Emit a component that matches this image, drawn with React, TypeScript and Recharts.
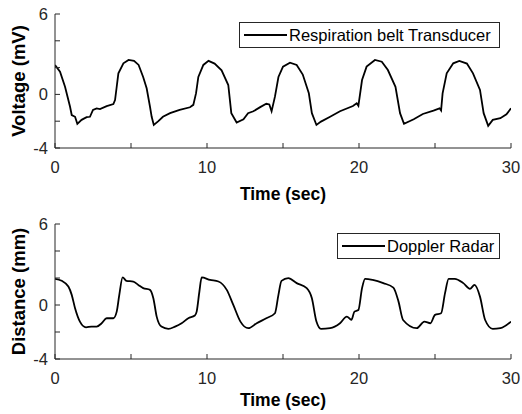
import { LineChart, Line, XAxis, YAxis, Legend, Label } from "recharts";

const FONT = '"Liberation Sans", Arial, Helvetica, sans-serif';
const AXIS = "#262626";

// axis ticks: every tick is drawn, only some carry a number
const TIME_TICKS = [0, 5, 10, 15, 20, 25, 30];
const TIME_LABELS = [0, 10, 20, 30];
const VALUE_TICKS = [-4, -2, 0, 2, 4, 6];
const VALUE_LABELS = [-4, 0, 6];

// respiration belt transducer (mV)
const beltTime = [
  0, 0.33, 0.66, 0.99, 1.1, 1.32, 1.47, 1.75, 2.08, 2.3, 2.5, 2.74, 2.96, 3.4, 3.84, 3.95,
  4.06, 4.17, 4.5, 4.84, 5.2, 5.5, 5.8, 6.03, 6.25, 6.36, 6.5, 6.8, 7.1, 7.57, 8.2, 8.88,
  9.1, 9.28, 9.43, 9.76, 10.1, 10.5, 10.96, 11.4, 11.6, 11.95, 12.4, 12.7, 13.05, 13.5, 13.9,
  14.1, 14.25, 14.47, 14.7, 15.0, 15.46, 15.9, 16.3, 16.7, 16.9, 17.2, 17.5, 18.1, 18.75,
  19.6, 19.85, 19.96, 20.2, 20.5, 21.05, 21.5, 21.9, 22.4, 22.7, 22.96, 23.6, 24.2, 24.9,
  25.3, 25.4, 25.5, 25.77, 26.2, 26.6, 27.1, 27.5, 27.96, 28.2, 28.5, 28.8, 29.3, 29.7, 30,
];
const beltVoltage = [
  2.2, 1.7, 0.57, -0.92, -1.54, -1.67, -2.2, -1.9, -1.7, -1.67, -1.16, -1.04, -1.1, -0.87, -0.72, -0.42,
  0.57, 1.57, 2.32, 2.57, 2.5, 2.2, 1.3, 0.46, -0.92, -1.67, -2.28, -2.0, -1.67, -1.4, -1.16, -0.96,
  -0.78, 0.09, 1.3, 2.2, 2.5, 2.3, 1.8, 0.7, -1.4, -2.1, -1.85, -1.4, -1.26, -0.95, -0.7,
  -0.75, -1.26, -0.17, 1.3, 2.07, 2.37, 2.2, 1.48, 0.08, -1.4, -2.28, -2.03, -1.67, -1.26,
  -0.87, -0.66, -0.85, 1.07, 2.07, 2.57, 2.44, 1.82, 0.57, -1.4, -2.2, -1.86, -1.46, -1.21,
  -1.04, -1.2, 0.08, 1.57, 2.32, 2.5, 2.3, 1.57, 0.33, -1.4, -2.35, -1.9, -1.78, -1.49, -1.04,
];

// doppler radar (mm)
const radarTime = [
  0, 0.44, 0.88, 1.1, 1.32, 1.64, 2.04, 2.4, 2.74, 3.07, 3.4, 3.84, 4.06, 4.23, 4.45, 4.7,
  5.15, 5.48, 5.8, 6.25, 6.47, 6.69, 7.0, 7.46, 7.9, 8.33, 8.77, 9.2, 9.32, 9.5, 9.65, 10.2,
  10.75, 11.3, 11.73, 12.2, 12.72, 13.27, 13.9, 14.47, 14.7, 14.9, 15.35, 15.9, 16.56, 16.9,
  17.2, 17.5, 18.1, 18.75, 19.2, 19.5, 19.7, 19.96, 20.2, 20.4, 20.9, 21.6, 22.26, 22.6, 22.9,
  23.8, 24.3, 24.7, 25.0, 25.4, 25.66, 25.9, 26.3, 26.86, 27.3, 27.6, 27.96, 28.3, 28.8, 29.3, 30,
];
const radarDistance = [
  1.94, 1.79, 1.37, 0.75, -0.24, -1.23, -1.65, -1.6, -1.6, -1.35, -0.98, -0.98, -0.49, 0.75, 2.04, 1.79,
  1.74, 1.49, 1.25, 1.12, 0.5, -0.86, -1.6, -1.77, -1.6, -1.35, -0.98, -0.78, -0.49, 1.0, 2.04, 1.86,
  1.74, 1.12, 0.01, -1.23, -1.72, -1.35, -0.98, -0.61, 0.75, 1.79, 1.99, 1.62, 1.25, 0.5,
  -1.23, -1.77, -1.72, -1.35, -0.86, -1.1, -0.49, -0.37, 1.25, 1.94, 1.86, 1.62, 1.29, 0.25, -1.11,
  -1.72, -1.23, -1.35, -0.73, -0.61, 0.88, 1.94, 1.94, 1.62, 1.2, 1.49, 0.62, -1.11, -1.77, -1.72, -1.23,
];

const toRows = (ts: number[], vs: number[]) => ts.map((t, i) => ({ t, v: vs[i] }));

interface PanelProps {
  data: { t: number; v: number }[];
  name: string;
  yLabel: string;
  height: number;
  axisHeight: number;
  labelOffset: number;
  legendLeft: number;
  legendTop: number;
  legendWidth: number;
  curve: "linear" | "monotone";
}

function LegendBox({ label, width }: { label: string; width: number }) {
  return (
    <div
      style={{
        width,
        height: 26,
        boxSizing: "border-box",
        border: `1px solid ${AXIS}`,
        background: "#fff",
        display: "flex",
        alignItems: "center",
        fontFamily: FONT,
        fontSize: 16.5,
        color: "#000",
        whiteSpace: "nowrap",
      }}
    >
      <span style={{ width: 43, height: 2, background: "#000", marginLeft: 4, marginRight: 2 }} />
      <span>{label}</span>
    </div>
  );
}

function Panel(p: PanelProps) {
  const tickStyle = { fill: AXIS, fontSize: 16.5, fontFamily: FONT };
  return (
    <LineChart
      width={522}
      height={p.height}
      data={p.data}
      margin={{ top: 14, right: 11, bottom: 0, left: 0 }}
    >
      <XAxis
        xAxisId="b"
        dataKey="t"
        type="number"
        domain={[0, 30]}
        ticks={TIME_TICKS}
        interval={0}
        allowDataOverflow
        height={p.axisHeight}
        tickSize={-5}
        tickMargin={18.5}
        stroke={AXIS}
        tick={tickStyle}
        tickFormatter={(v: number) => (TIME_LABELS.includes(v) ? String(v) : "")}
      >
        <Label
          value="Time (sec)"
          position="insideBottom"
          offset={p.labelOffset}
          style={{ fontWeight: "bold", fontSize: 17.5, fill: "#000", fontFamily: FONT }}
        />
      </XAxis>
      <XAxis
        xAxisId="t"
        orientation="top"
        dataKey="t"
        type="number"
        domain={[0, 30]}
        ticks={TIME_TICKS}
        interval={0}
        allowDataOverflow
        height={0}
        tickSize={-5}
        stroke={AXIS}
        tickFormatter={() => ""}
      />
      <YAxis
        yAxisId="l"
        type="number"
        domain={[-4, 6]}
        ticks={VALUE_TICKS}
        interval={0}
        allowDataOverflow
        width={55}
        tickSize={-5}
        tickMargin={12}
        stroke={AXIS}
        tick={tickStyle}
        tickFormatter={(v: number) => (VALUE_LABELS.includes(v) ? String(v) : "")}
      >
        <Label
          value={p.yLabel}
          angle={-90}
          position="center"
          dx={-9}
          style={{ fontWeight: "bold", fontSize: 18.5, fill: "#000", fontFamily: FONT }}
        />
      </YAxis>
      <YAxis
        yAxisId="r"
        orientation="right"
        type="number"
        domain={[-4, 6]}
        ticks={VALUE_TICKS}
        interval={0}
        allowDataOverflow
        width={0}
        tickSize={-5}
        stroke={AXIS}
        tickFormatter={() => ""}
      />
      <Legend
        layout="horizontal"
        align="center"
        verticalAlign="middle"
        wrapperStyle={{ left: p.legendLeft, top: p.legendTop, width: "auto", height: "auto" }}
        content={() => <LegendBox label={p.name} width={p.legendWidth} />}
      />
      <Line
        xAxisId="b"
        yAxisId="l"
        dataKey="v"
        name={p.name}
        type={p.curve}
        stroke="#000"
        strokeWidth={1.8}
        dot={false}
        isAnimationActive={false}
      />
    </LineChart>
  );
}

export default function App() {
  return (
    <div
      style={{
        position: "absolute",
        left: 0,
        top: 0,
        width: 522,
        height: 414,
        background: "#fff",
        fontFamily: FONT,
      }}
    >
      <div style={{ position: "absolute", left: 0, top: 0 }}>
        <Panel
          data={toRows(beltTime, beltVoltage)}
          name="Respiration belt Transducer"
          yLabel="Voltage (mV)"
          height={205}
          axisHeight={57}
          labelOffset={5}
          legendLeft={239}
          legendTop={22}
          legendWidth={261}
          curve="linear"
        />
      </div>
      <div style={{ position: "absolute", left: 0, top: 210 }}>
        <Panel
          data={toRows(radarTime, radarDistance)}
          name="Doppler Radar"
          yLabel="Distance (mm)"
          height={204}
          axisHeight={55}
          labelOffset={8}
          legendLeft={337}
          legendTop={23}
          legendWidth={163}
          curve="monotone"
        />
      </div>
    </div>
  );
}
